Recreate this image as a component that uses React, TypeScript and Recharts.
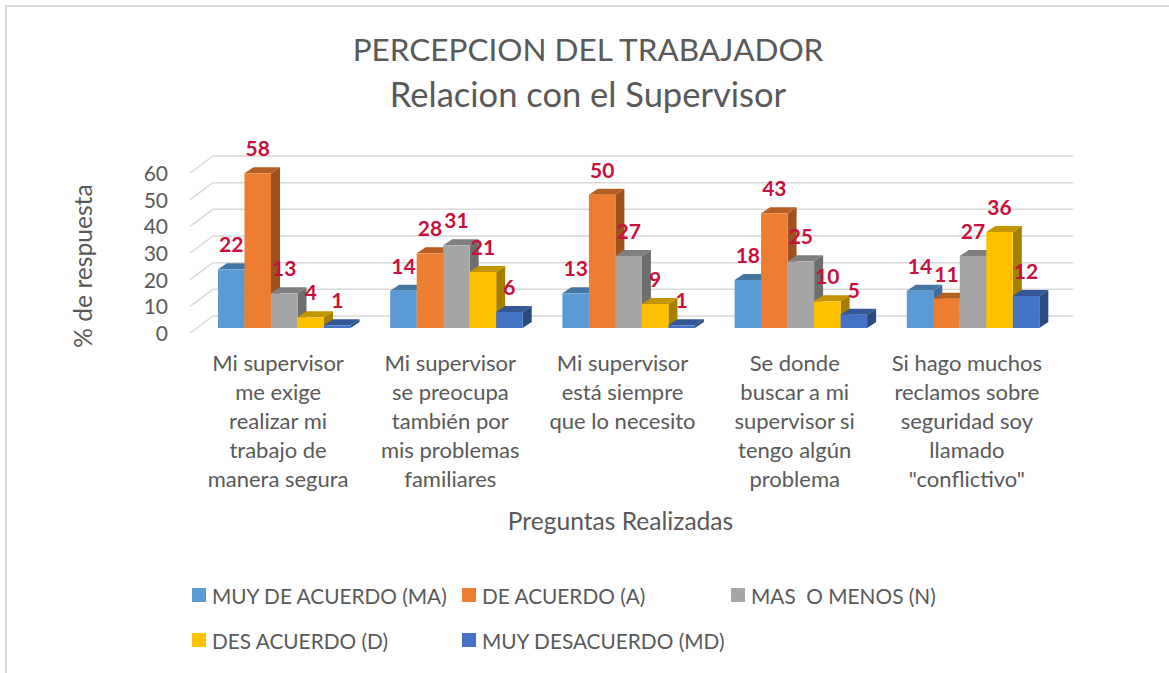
import { Bar, BarChart, CartesianGrid, Label, LabelList, Legend, XAxis, YAxis } from 'recharts';

const categories = [
  'Mi supervisor\nme exige\nrealizar mi\ntrabajo de\nmanera segura',
  'Mi supervisor\nse preocupa\ntambién por\nmis problemas\nfamiliares',
  'Mi supervisor\nestá siempre\nque lo necesito',
  'Se donde\nbuscar a mi\nsupervisor si\ntengo algún\nproblema',
  'Si hago muchos\nreclamos sobre\nseguridad soy\nllamado\n"conflictivo"',
];

const muyDeAcuerdo = [22, 14, 13, 18, 14];
const deAcuerdo = [58, 28, 50, 43, 11];
const masOMenos = [13, 31, 27, 25, 27];
const desAcuerdo = [4, 21, 9, 10, 36];
const muyDesacuerdo = [1, 6, 1, 5, 12];

const yTicks = [0, 10, 20, 30, 40, 50, 60];

const chartData = categories.map((name, i) => ({
  name,
  ma: muyDeAcuerdo[i],
  a: deAcuerdo[i],
  n: masOMenos[i],
  d: desAcuerdo[i],
  md: muyDesacuerdo[i],
}));

const series = [
  { key: 'ma', name: 'MUY DE ACUERDO (MA)', fill: '#5B9BD5', top: '#4476A3', side: '#3F6E98' },
  { key: 'a', name: 'DE ACUERDO (A)', fill: '#ED7D31', top: '#B55F25', side: '#9E5220' },
  { key: 'n', name: 'MAS  O MENOS (N)', fill: '#A5A5A5', top: '#7F7F7F', side: '#6E6E6E' },
  { key: 'd', name: 'DES ACUERDO (D)', fill: '#FFC000', top: '#C49300', side: '#A67F00' },
  { key: 'md', name: 'MUY DESACUERDO (MD)', fill: '#4472C4', top: '#345796', side: '#2B4A80' },
];

const FONT = 'Lato, sans-serif';
const TEXT = '#595959';
const GRID = '#d9d9d9';
const LABEL = '#C8103C';

// extrusion of the 3D bars
const DX = 9;
const DY = 6;

function Bar3D(props: any) {
  const { x, y, width, height, fill, top, side } = props;
  return (
    <g>
      <polygon
        points={`${x + width},${y} ${x + width + DX},${y - DY} ${x + width + DX},${y + height - DY} ${x + width},${y + height}`}
        fill={side}
      />
      <polygon
        points={`${x},${y} ${x + DX},${y - DY} ${x + width + DX},${y - DY} ${x + width},${y}`}
        fill={top}
      />
      <rect x={x} y={y} width={width} height={height} fill={fill} />
    </g>
  );
}

// back wall line plus the slanted part on the side wall
function WallLine(props: any) {
  const { x1, x2, y1 } = props;
  return (
    <polyline
      points={`${x1 - 8},${y1 + 5} ${x1 + 15},${y1 - 12} ${x2 + 14},${y1 - 12}`}
      fill="none"
      stroke={GRID}
      strokeWidth={1.5}
    />
  );
}

function CategoryTick({ x, y, payload }: any) {
  const lines = String(payload.value).split('\n');
  return (
    <text x={x - 6} y={y} textAnchor="middle" fontFamily={FONT} fontSize={22} fill={TEXT}>
      {lines.map((line, i) => (
        <tspan key={i} x={x - 6} y={y + 35 + i * 29}>
          {line}
        </tspan>
      ))}
    </text>
  );
}

function ValueTick({ y, payload }: any) {
  return (
    <text x={168} y={y + 13} textAnchor="end" fontFamily={FONT} fontSize={21} fill={TEXT}>
      {payload.value}
    </text>
  );
}

function LegendGrid() {
  return (
    <div style={{ display: 'grid', gridTemplateColumns: '270px 269px 300px', rowGap: 19 }}>
      {series.map((item) => (
        <div key={item.key} style={{ display: 'flex', alignItems: 'center', height: 26 }}>
          <span style={{ width: 14, height: 14, background: item.fill, marginRight: 6 }} />
          <span style={{ fontFamily: FONT, fontSize: 20.8, color: TEXT, whiteSpace: 'pre' }}>{item.name}</span>
        </div>
      ))}
    </div>
  );
}

export default function App() {
  return (
    <div
      style={{
        position: 'absolute',
        left: 0,
        top: 0,
        width: 1169,
        height: 673,
        overflow: 'hidden',
        background: '#fff',
      }}
    >
      <div
        style={{
          position: 'absolute',
          left: 5,
          top: 5,
          width: 1170,
          height: 680,
          borderLeft: `2px solid ${GRID}`,
          borderTop: `2px solid ${GRID}`,
        }}
      />
      <BarChart
        width={1169}
        height={673}
        data={chartData}
        margin={{ top: 168, right: 110, bottom: 0, left: 0 }}
        barGap={0}
        barCategoryGap="11.5%"
        barSize={26.5}
        style={{ position: 'absolute', left: 0, top: 0 }}
      >
        <text x={588} y={61} textAnchor="middle" fontFamily={FONT} fontSize={31.5} fill={TEXT}>
          PERCEPCION DEL TRABAJADOR
        </text>
        <text x={588} y={107} textAnchor="middle" fontFamily={FONT} fontSize={34.5} fill={TEXT}>
          Relacion con el Supervisor
        </text>
        <CartesianGrid vertical={false} horizontal={(p: any) => <WallLine key={p.key} {...p} />} />
        <XAxis dataKey="name" axisLine={false} tickLine={false} interval={0} height={345} tick={<CategoryTick />}>
          <Label
            value="Preguntas Realizadas"
            position="insideTop"
            offset={185}
            dx={-8}
            style={{ fontFamily: FONT, fontSize: 24.6, fill: TEXT }}
          />
        </XAxis>
        <YAxis width={198} domain={[0, 60]} ticks={yTicks} axisLine={false} tickLine={false} tick={<ValueTick />}>
          <Label
            value="% de respuesta"
            content={() => (
              <text
                x={0}
                y={0}
                transform="translate(92,266) rotate(-90)"
                textAnchor="middle"
                fontFamily={FONT}
                fontSize={24.6}
                fill={TEXT}
              >
                % de respuesta
              </text>
            )}
          />
        </YAxis>
        <Legend
          layout="horizontal"
          verticalAlign="middle"
          align="center"
          content={<LegendGrid />}
          wrapperStyle={{ position: 'absolute', left: 192, top: 582, width: 900, height: 80 }}
        />
        {series.map((s) => (
          <Bar
            key={s.key}
            dataKey={s.key}
            name={s.name}
            fill={s.fill}
            isAnimationActive={false}
            shape={(p: any) => <Bar3D {...p} top={s.top} side={s.side} />}
          >
            <LabelList
              dataKey={s.key}
              position="top"
              offset={17}
              style={{ fontFamily: FONT, fontSize: 21, fontWeight: 700, fill: LABEL }}
            />
          </Bar>
        ))}
      </BarChart>
    </div>
  );
}
